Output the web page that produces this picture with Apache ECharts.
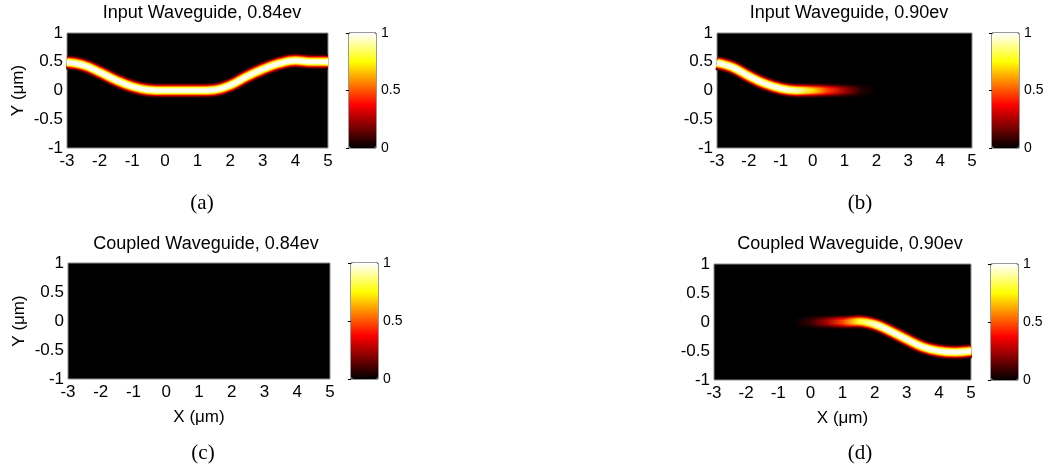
<!DOCTYPE html>
<html>
<head>
<meta charset="utf-8">
<script src="https://cdn.jsdelivr.net/npm/echarts@6/dist/echarts.min.js"></script>
<style>
html, body { margin: 0; padding: 0; background: #fff; }
#main { width: 1054px; height: 471px; }
</style>
</head>
<body>
<div id="main"></div>
<script>
// axis ticks
var xTicks = [-3, -2, -1, 0, 1, 2, 3, 4, 5];
var yTicks = [-1, -0.5, 0, 0.5, 1];
var barTicks = [0, 0.5, 1];

// beam centre line (um) and peak intensity
var inX084 = [-3, -2.5, -2, -1.5, -1, -0.5, 0, 0.5, 1, 1.5, 2, 2.5, 3, 3.5, 4, 4.5, 5];
var inY084 = [0.49, 0.44, 0.32, 0.18, 0.07, 0.01, 0, 0, 0, 0.01, 0.09, 0.24, 0.37, 0.47, 0.52, 0.5, 0.5];
var inAmp084 = [1, 1, 1, 1, 1, 1, 1, 1, 1, 1, 1, 1, 1, 1, 1, 1, 1];

var inX090 = [-3, -2.5, -2, -1.5, -1, -0.5, 0, 0.5, 1, 1.5, 2];
var inY090 = [0.48, 0.4, 0.25, 0.12, 0.035, 0, 0, 0, 0, 0, 0];
var inAmp090 = [1, 1, 1, 1, 1, 0.95, 0.72, 0.46, 0.24, 0.06, 0];

// coupled waveguide at 0.84ev carries nothing
var cpX084 = [];
var cpY084 = [];
var cpAmp084 = [];

var cpX090 = [-1, -0.5, 0, 0.5, 1, 1.5, 2, 2.5, 3, 3.5, 4, 4.5, 5];
var cpY090 = [0, 0, 0, 0, 0, 0.01, -0.04, -0.16, -0.3, -0.43, -0.5, -0.52, -0.5];
var cpAmp090 = [0, 0, 0.08, 0.24, 0.48, 0.8, 0.97, 1, 1, 1, 1, 1, 1];

var font = 'Liberation Sans, Arial, sans-serif';

// matlab "hot" colormap
function hot(v) {
    v = Math.max(0, Math.min(1, v));
    var r = Math.min(1, v / 0.375);
    var g = Math.max(0, Math.min(1, (v - 0.375) / 0.375));
    var b = Math.max(0, (v - 0.75) / 0.25);
    return 'rgb(' + Math.round(r * 255) + ',' + Math.round(g * 255) + ',' + Math.round(b * 255) + ')';
}
var hotStops = [];
for (var k = 0; k <= 8; k++) hotStops.push(hot(k / 8));

var panels = [
    { title: 'Input Waveguide, 0.84ev', tag: '(a)', titlePos: [202, 13], tagPos: [202, 203],
      grid: { left: 67, top: 33, width: 261, height: 115 }, bar: { left: 349, top: 33, height: 115 },
      xName: '', yName: 'Y (\u03bcm)', x: inX084, y: inY084, amp: inAmp084 },
    { title: 'Input Waveguide, 0.90ev', tag: '(b)', titlePos: [849, 13], tagPos: [860, 203],
      grid: { left: 717, top: 33, width: 255, height: 115 }, bar: { left: 992, top: 33, height: 115 },
      xName: '', yName: '', x: inX090, y: inY090, amp: inAmp090 },
    { title: 'Coupled Waveguide, 0.84ev', tag: '(c)', titlePos: [206, 244], tagPos: [203, 453],
      grid: { left: 68, top: 263, width: 262, height: 116 }, bar: { left: 351, top: 263, height: 116 },
      xName: 'X (\u03bcm)', yName: 'Y (\u03bcm)', x: cpX084, y: cpY084, amp: cpAmp084 },
    { title: 'Coupled Waveguide, 0.90ev', tag: '(d)', titlePos: [850, 244], tagPos: [860, 453],
      grid: { left: 714, top: 264, width: 257, height: 116 }, bar: { left: 991, top: 264, height: 116 },
      xName: 'X (\u03bcm)', yName: '', x: cpX090, y: cpY090, amp: cpAmp090 }
];

// beam drawn as stacked strokes, one per intensity band of a flat-topped mode profile
var levels = [0.04, 0.12, 0.22, 0.34, 0.46, 0.58, 0.70, 0.82, 0.93];
var halfWidth = 4.9;   // px
var profilePow = 3;

var grids = [], xAxes = [], yAxes = [], series = [], visualMaps = [], graphics = [];

panels.forEach(function (p, i) {
    var gi = 2 * i;      // main plot
    var bi = 2 * i + 1;  // colour bar
    grids.push({ left: p.grid.left, top: p.grid.top, width: p.grid.width, height: p.grid.height,
        show: true, backgroundColor: '#000', borderColor: '#8c8c8c', borderWidth: 1 });
    xAxes.push({
        gridIndex: gi, type: 'value', min: xTicks[0], max: xTicks[xTicks.length - 1], interval: xTicks[1] - xTicks[0],
        axisLine: { show: false }, axisTick: { show: false }, splitLine: { show: false },
        axisLabel: { fontSize: 17, color: '#000', fontFamily: font, margin: 5, showMinLabel: true, showMaxLabel: true },
        name: p.xName, nameLocation: 'middle', nameGap: 30,
        nameTextStyle: { fontSize: 17, color: '#000', fontFamily: font }
    });
    yAxes.push({
        gridIndex: gi, type: 'value', min: yTicks[0], max: yTicks[yTicks.length - 1], interval: yTicks[1] - yTicks[0],
        axisLine: { show: false }, axisTick: { show: false }, splitLine: { show: false },
        axisLabel: { fontSize: 17, color: '#000', fontFamily: font, margin: 4, showMinLabel: true, showMaxLabel: true },
        name: p.yName, nameLocation: 'middle', nameGap: 40, nameRotate: 90,
        nameTextStyle: { fontSize: 17, color: '#000', fontFamily: font }
    });

    grids.push({ left: p.bar.left, top: p.bar.top, width: 27, height: p.bar.height,
        show: true, borderColor: '#333', borderWidth: 1, backgroundColor: 'transparent' });
    xAxes.push({ gridIndex: bi, type: 'value', show: false });
    yAxes.push({
        gridIndex: bi, type: 'value', position: 'right',
        min: barTicks[0], max: barTicks[barTicks.length - 1], interval: barTicks[1] - barTicks[0],
        axisLine: { show: false }, splitLine: { show: false },
        axisTick: { show: true, inside: true, length: 3, lineStyle: { color: '#000' } },
        axisLabel: { fontSize: 14, color: '#000', fontFamily: font, margin: 5, showMinLabel: true, showMaxLabel: true }
    });
    visualMaps.push({
        type: 'continuous', min: 0, max: 1, seriesIndex: [], orient: 'vertical',
        left: p.bar.left, top: p.bar.top, itemWidth: 27, itemHeight: p.bar.height,
        padding: 0, calculable: false, hoverLink: false, text: null,
        inRange: { color: hotStops }
    });

    if (p.x.length) {
        var x0 = p.x[0], x1 = p.x[p.x.length - 1];
        var pxPerUnit = p.grid.width / (xTicks[xTicks.length - 1] - xTicks[0]);
        var span = (x1 - x0) * pxPerUnit;
        var pts = p.x.map(function (x, j) { return [x, p.y[j]]; });
        levels.forEach(function (L, li) {
            var c = li < levels.length - 1 ? (L + levels[li + 1]) / 2 : 0.985;
            var w = 2 * halfWidth * Math.pow(-Math.log(L), 1 / profilePow);
            // gradient box of a stroked path is widened by the stroke width
            var pad = Math.max(w, 4);
            var stops = p.x.map(function (x, j) {
                return { offset: ((x - x0) * pxPerUnit + pad / 2) / (span + pad), color: hot(c * p.amp[j]) };
            });
            stops.unshift({ offset: 0, color: stops[0].color });
            stops.push({ offset: 1, color: stops[stops.length - 1].color });
            series.push({
                type: 'line', xAxisIndex: gi, yAxisIndex: gi, data: pts,
                smooth: 0.4, showSymbol: false, symbol: 'none',
                silent: true, animation: false, emphasis: { disabled: true },
                lineStyle: { width: w, cap: 'butt', join: 'round',
                    color: new echarts.graphic.LinearGradient(0, 0, 1, 0, stops) }
            });
        });
    }

    graphics.push({ type: 'text', x: p.titlePos[0], y: p.titlePos[1],
        style: { text: p.title, fill: '#000', font: '18px ' + font, align: 'center', verticalAlign: 'middle' } });
    graphics.push({ type: 'text', x: p.tagPos[0], y: p.tagPos[1],
        style: { text: p.tag, fill: '#000', font: '21px Liberation Serif, Times New Roman, serif', align: 'center', verticalAlign: 'middle' } });
});

var chart = echarts.init(document.getElementById('main'));
chart.setOption({
    backgroundColor: '#fff',
    animation: false,
    grid: grids,
    xAxis: xAxes,
    yAxis: yAxes,
    visualMap: visualMaps,
    series: series,
    graphic: graphics
});
</script>
</body>
</html>
